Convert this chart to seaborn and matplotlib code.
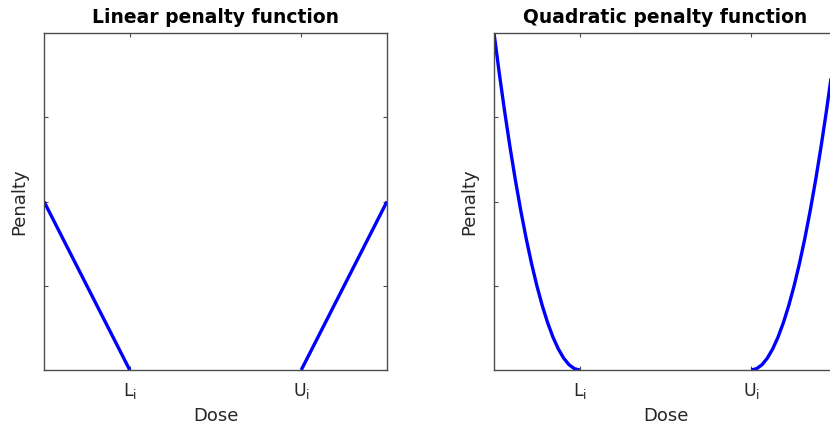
import matplotlib
matplotlib.use("Agg")
import matplotlib.pyplot as plt
import seaborn as sns
import pandas as pd

sns.set_style("white")
plt.rcParams["font.family"] = ["DejaVu Sans"]
plt.rcParams["mathtext.fontset"] = "dejavusans"

# Dose axis: lower bound L_i at 1, upper bound U_i at 3
tick_pos = [1, 3]
tick_labels = [r"L$_{\mathregular{i}}$", r"U$_{\mathregular{i}}$"]

# Linear penalty (below L_i and above U_i)
lin_low_dose = [0.0, 1.0]
lin_low_pen = [2.0, 0.0]
lin_high_dose = [3.0, 4.0]
lin_high_pen = [0.0, 2.0]

# Quadratic penalty (below L_i and above U_i)
quad_low_dose = [0.0, 0.0625, 0.125, 0.1875, 0.25, 0.3125, 0.375, 0.4375, 0.5,
                 0.5625, 0.625, 0.6875, 0.75, 0.8125, 0.875, 0.9375, 1.0]
quad_low_pen = [4.0, 3.515625, 3.0625, 2.640625, 2.25, 1.890625, 1.5625, 1.265625, 1.0,
                0.765625, 0.5625, 0.390625, 0.25, 0.140625, 0.0625, 0.015625, 0.0]
quad_high_dose = [3.0, 3.0625, 3.125, 3.1875, 3.25, 3.3125, 3.375, 3.4375, 3.5,
                  3.5625, 3.625, 3.6875, 3.75, 3.8125, 3.875, 3.9375, 4.0]
quad_high_pen = [0.0, 0.015625, 0.0625, 0.140625, 0.25, 0.390625, 0.5625, 0.765625, 1.0,
                 1.265625, 1.5625, 1.890625, 2.25, 2.640625, 3.0625, 3.515625, 4.0]

W, H = 830, 425
fig = plt.figure(figsize=(W / 100, H / 100), dpi=100)
ax1 = fig.add_axes([44 / W, 55 / H, 343 / W, 337 / H])
ax2 = fig.add_axes([494 / W, 55 / H, 343 / W, 337 / H])

spine_col = "#4d4d4d"
text_col = "#262626"


def branch(ax, xs, ys):
    df = pd.DataFrame({"Dose": xs, "Penalty": ys})
    sns.lineplot(data=df, x="Dose", y="Penalty", ax=ax, color="#0000ff",
                 linewidth=2.4, solid_capstyle="butt", solid_joinstyle="round")


for ax, title, segs in [
    (ax1, "Linear penalty function",
     [(lin_low_dose, lin_low_pen), (lin_high_dose, lin_high_pen)]),
    (ax2, "Quadratic penalty function",
     [(quad_low_dose, quad_low_pen), (quad_high_dose, quad_high_pen)]),
]:
    for xs, ys in segs:
        branch(ax, xs, ys)
    ax.set_xlim(0, 4)
    ax.set_ylim(0, 4)
    ax.set_xticks(tick_pos)
    ax.set_xticklabels(tick_labels)
    ax.set_yticks([1, 2, 3])
    ax.set_yticklabels([])
    ax.tick_params(axis="both", direction="in", length=3, width=0.8,
                   color=spine_col, top=True, right=True, bottom=True, left=True,
                   labelsize=12.5, labelcolor=text_col, pad=8)
    for s in ax.spines.values():
        s.set_visible(True)
        s.set_color(spine_col)
        s.set_linewidth(1.0)
    ax.set_title(title, fontsize=13.5, fontweight="bold", color="black", pad=7)
    ax.set_xlabel("Dose", fontsize=13, color=text_col, labelpad=4)
    ax.set_ylabel("Penalty", fontsize=13, color=text_col, labelpad=3.5)

fig.savefig("out.png", dpi=100)
